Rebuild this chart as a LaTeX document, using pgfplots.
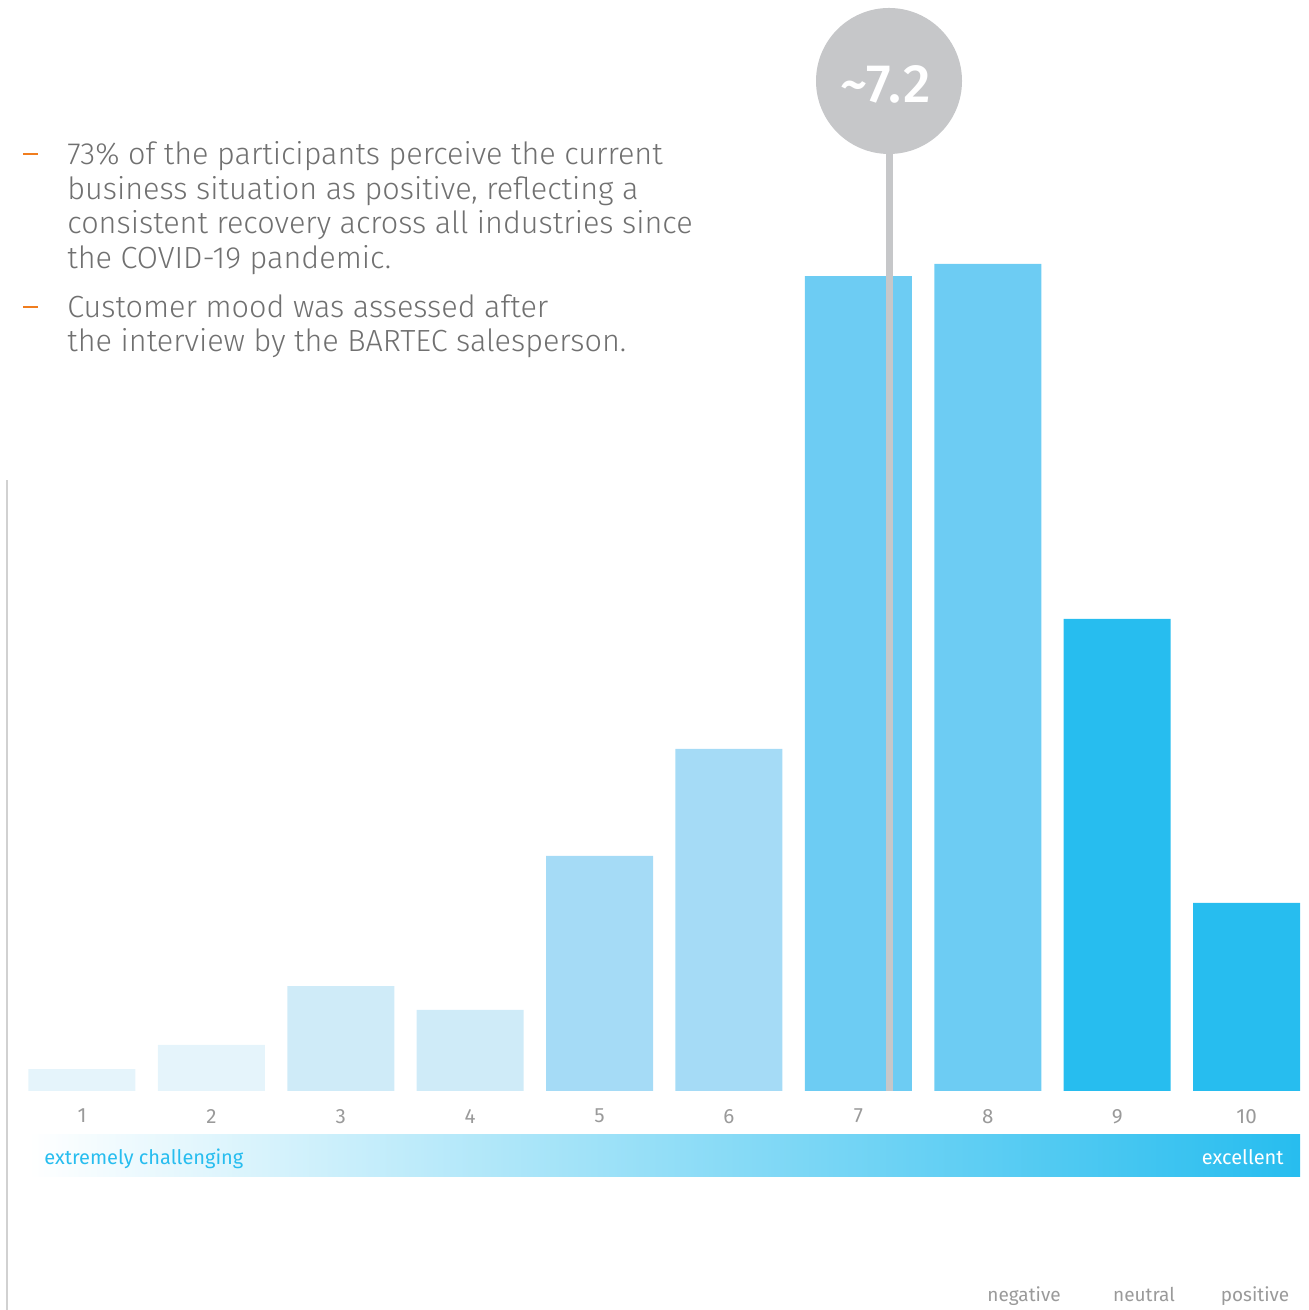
\documentclass[border=0pt]{standalone}
\usepackage{pgfplots}
\pgfplotsset{compat=1.18}
\usepackage{fontspec}
\setmainfont{Fira Sans}[UprightFont=* Light, BoldFont=* Medium]
\newfontfamily\regfont{Fira Sans}
\definecolor{cA}{HTML}{E5F4FB}
\definecolor{cB}{HTML}{CFEBF8}
\definecolor{cC}{HTML}{A5DBF6}
\definecolor{cD}{HTML}{6DCCF3}
\definecolor{cE}{HTML}{27BDEF}
\definecolor{cgray}{HTML}{C6C7C9}
\definecolor{ctext}{HTML}{707070}
\definecolor{clab}{HTML}{9A9A9A}
\definecolor{corange}{HTML}{F07D1E}
\begin{document}
\begin{tikzpicture}[x=0.5pt,y=0.5pt]
\useasboundingbox (0,0) rectangle (1309,1310);
% left thin line
\draw[line width=1pt, color=black!18] (7,0) -- (7,830);
\begin{axis}[
  at={(8.65pt,109.5pt)}, anchor=south west,
  scale only axis, width=641.8pt, height=470pt,
  xmin=0.5, xmax=10.42, ymin=0, ymax=30,
  axis line style={draw=none},
  ytick=\empty, xtick={1,...,10},
  major tick length=0pt,
  xticklabel style={font=\regfont\fontsize{10.3}{11}\selectfont, color=clab, yshift=-5.5pt},
  /pgf/number format/assume math mode=true,
  clip=false,
  ybar, bar width=53.5pt,
]
\addplot[fill=cA, draw=none, bar shift=0pt] coordinates {(1,0.7) (2,1.47)};
\addplot[fill=cB, draw=none, bar shift=0pt] coordinates {(3,3.35) (4,2.59)};
\addplot[fill=cC, draw=none, bar shift=0pt] coordinates {(5,7.5) (6,10.92)};
\addplot[fill=cD, draw=none, bar shift=0pt] coordinates {(7,26.01) (8,26.4)};
\addplot[fill=cE, draw=none, bar shift=0pt] coordinates {(9,15.07) (10,6.0)};
\end{axis}
% mean line and bubble
\draw[line width=3.5pt, color=cgray] (889,219) -- (889,1229);
\node[circle, fill=cgray, minimum size=73pt, inner sep=0pt] at (889,1229) {};
\node[text=white, font=\fontsize{27}{28}\selectfont\bfseries\addfontfeatures{LetterSpace=4}] at (886,1226) {\char`\~7.2};
% gradient scale bar
\shade[left color=white, right color=cE] (29,133) rectangle (1300,175);
\node[anchor=base west, inner sep=0pt, text=cE, font=\regfont\fontsize{10}{12}\selectfont] at (44,145) {extremely challenging};
\node[anchor=base east, inner sep=0pt, text=white, font=\regfont\fontsize{10}{12}\selectfont] at (1284,145) {excellent};
% bottom labels
\node[anchor=base, text=clab, font=\regfont\fontsize{9.5}{11}\selectfont] at (1024,9) {negative};
\node[anchor=base, text=clab, font=\regfont\fontsize{9.5}{11}\selectfont] at (1144,9) {neutral};
\node[anchor=base, text=clab, font=\regfont\fontsize{9.5}{11}\selectfont] at (1255,9) {positive};
% text block
\fill[corange] (23,1157) rectangle (38,1155);
\fill[corange] (23,1004) rectangle (38,1002);
\node[anchor=north west, inner sep=0pt, text=ctext, align=left, font=\fontsize{15.3}{17.35}\selectfont] at (67,1169)
  {73\% of the participants perceive the current\\
   business situation as positive, reflecting a\\
   consistent recovery across all industries since\\
   the COVID-19 pandemic.};
\node[anchor=north west, inner sep=0pt, text=ctext, align=left, font=\fontsize{15.3}{17.35}\selectfont] at (67,1016)
  {Customer mood was assessed after\\
   the interview by the BARTEC salesperson.};
\end{tikzpicture}
\end{document}
